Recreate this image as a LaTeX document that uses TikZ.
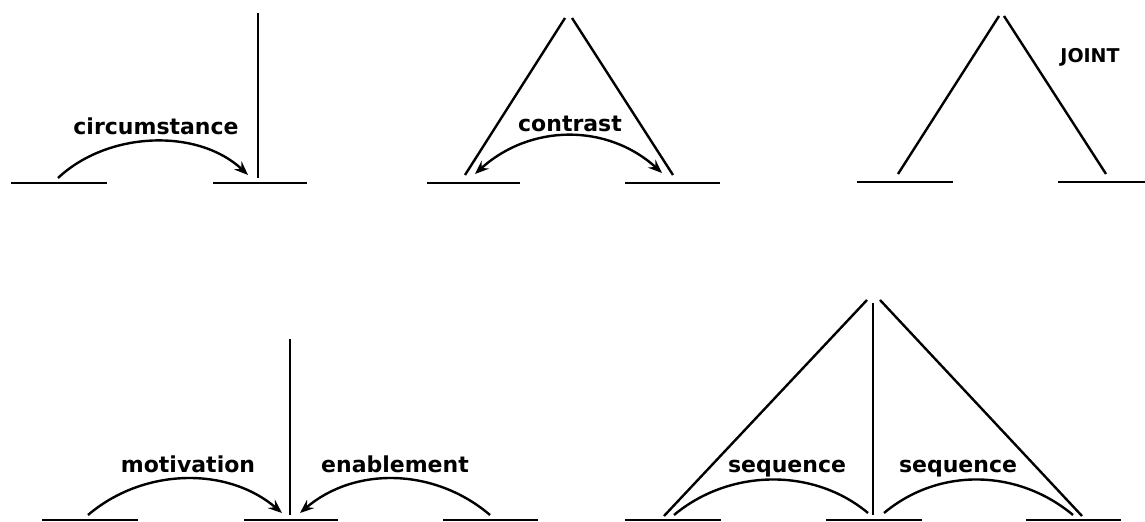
\documentclass[tikz,border=0pt]{standalone}
\usepackage{fontspec}
\setmainfont{DejaVu Sans}
\usetikzlibrary{arrows.meta}

\begin{document}
\begin{tikzpicture}[x=0.5pt,y=-0.5pt,
    span/.style={draw,line width=1.4pt},
    tie/.style={draw,line width=1.2pt},
    rel/.style={draw,line width=1.2pt,-{Stealth[length=7pt,width=5.5pt,inset=2.5pt]}},
    lab/.style={font=\fontsize{11}{13}\selectfont\bfseries,inner sep=0pt,anchor=base}]
    \useasboundingbox (0,0) rectangle (1145,522);

    % circumstance
    \coordinate (ca) at (11,183);  \coordinate (cb) at (107,183);
    \coordinate (cc) at (213,183); \coordinate (cd) at (307,183);
    \coordinate (ctop) at (258,13); \coordinate (cfoot) at (258,178);
    \coordinate (csat) at (58,178); \coordinate (cnuc) at (248,175);
    \node[lab] (lcirc) at (156,135) {circumstance};
    \path[span] (ca) -- (cb);
    \path[span] (cc) -- (cd);
    \path[tie] (ctop) -- (cfoot);
    \path[rel] (csat) .. controls +(50,-47) and +(-50,-47) .. (cnuc);

    % contrast
    \coordinate (ka) at (427,183); \coordinate (kb) at (520,183);
    \coordinate (kc) at (625,183); \coordinate (kd) at (720,183);
    \coordinate (ktopl) at (565,18); \coordinate (ktopr) at (572,18);
    \coordinate (kfootl) at (465,175); \coordinate (kfootr) at (673,175);
    \coordinate (kl) at (475,174); \coordinate (kr) at (662,173);
    \node[lab] (lcontr) at (570,132) {contrast};
    \path[span] (ka) -- (kb);
    \path[span] (kc) -- (kd);
    \path[tie] (kfootl) -- (ktopl);
    \path[tie] (ktopr) -- (kfootr);
    \path[rel,{Stealth[length=7pt,width=5.5pt,inset=2.5pt]}-{Stealth[length=7pt,width=5.5pt,inset=2.5pt]}]
        (kl) .. controls +(55,-50) and +(-55,-50) .. (kr);

    % joint
    \coordinate (ja) at (857,182);  \coordinate (jb) at (953,182);
    \coordinate (jc) at (1058,182); \coordinate (jd) at (1145,182);
    \coordinate (jtopl) at (999,16); \coordinate (jtopr) at (1004,16);
    \coordinate (jfootl) at (898,174); \coordinate (jfootr) at (1106,174);
    \node[lab,font=\fontsize{9.5}{11}\selectfont\bfseries] (ljoint) at (1090,63) {JOINT};
    \path[span] (ja) -- (jb);
    \path[span] (jc) -- (jd);
    \path[tie] (jfootl) -- (jtopl);
    \path[tie] (jtopr) -- (jfootr);

    % motivation / enablement
    \coordinate (ma) at (42,520);  \coordinate (mb) at (138,520);
    \coordinate (mc) at (244,520); \coordinate (md) at (338,520);
    \coordinate (me) at (443,520); \coordinate (mf) at (538,520);
    \coordinate (mtop) at (290,339); \coordinate (mfoot) at (290,515);
    \coordinate (msat) at (88,515);  \coordinate (mnucl) at (282,513);
    \coordinate (esat) at (490,515); \coordinate (mnucr) at (300,513);
    \node[lab] (lmot) at (188,473) {motivation};
    \node[lab] (lenab) at (395,473) {enablement};
    \path[span] (ma) -- (mb);
    \path[span] (mc) -- (md);
    \path[span] (me) -- (mf);
    \path[tie] (mtop) -- (mfoot);
    \path[rel] (msat) .. controls +(55,-47) and +(-55,-47) .. (mnucl);
    \path[rel] (esat) .. controls +(-55,-47) and +(55,-47) .. (mnucr);

    % sequence
    \coordinate (sa) at (625,520);  \coordinate (sb) at (721,520);
    \coordinate (sc) at (826,520);  \coordinate (sd) at (922,520);
    \coordinate (se) at (1026,520); \coordinate (sf) at (1121,520);
    \coordinate (stopl) at (867,300); \coordinate (stop) at (873,303);
    \coordinate (stopr) at (880,300);
    \coordinate (sfootl) at (664,516); \coordinate (sfoot) at (873,515);
    \coordinate (sfootr) at (1082,516);
    \coordinate (s1) at (674,515); \coordinate (s2) at (868,513);
    \coordinate (s3) at (884,513); \coordinate (s4) at (1073,515);
    \node[lab] (lseq1) at (787,473) {sequence};
    \node[lab] (lseq2) at (958,473) {sequence};
    \path[span] (sa) -- (sb);
    \path[span] (sc) -- (sd);
    \path[span] (se) -- (sf);
    \path[tie] (sfootl) -- (stopl);
    \path[tie] (stop) -- (sfoot);
    \path[tie] (stopr) -- (sfootr);
    \path[tie] (s1) .. controls +(55,-46) and +(-55,-46) .. (s2);
    \path[tie] (s3) .. controls +(55,-46) and +(-55,-46) .. (s4);
  \end{tikzpicture}
\end{document}
